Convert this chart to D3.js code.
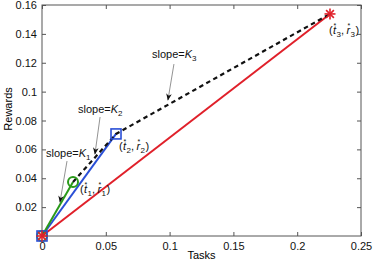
<!DOCTYPE html>
<html>
<head>
<meta charset="utf-8">
<script src="https://cdn.jsdelivr.net/npm/d3@7"></script>
<style>
  body { margin: 0; background: #fff; }
  text { font-family: "Liberation Sans", Arial, sans-serif; }
</style>
</head>
<body>
<div class="canvas"></div>
<script>
'use strict';
// points (t*, r*)
var pointT = [0.0243, 0.058, 0.2257];
var pointR = [0.0374, 0.0707, 0.1538];
var xTicks = [0, 0.05, 0.1, 0.15, 0.2, 0.25];
var yTicks = [0.02, 0.04, 0.06, 0.08, 0.1, 0.12, 0.14, 0.16];

// slope annotations: label anchor, arrow start, arrow end (data units)
var slopeNames = ['1', '2', '3'];
var slopeText = [[0.0031, 0.0547], [0.0282, 0.0852], [0.0862, 0.1230]];
var arrowFrom = [[0.0196, 0.0519], [0.0455, 0.0824], [0.1034, 0.1191]];
var arrowTo = [[0.0141, 0.0235], [0.0415, 0.0568], [0.0987, 0.0942]];
var pointLabelAt = [[0.0298, 0.0298], [0.0603, 0.0596], [0.2249, 0.1399]];

var W = 374, H = 261;
var m = {l: 42, t: 5, r: 13, b: 25};

var xScale = d3.scaleLinear().domain([0, 0.25]).range([m.l, W - m.r]);
var yScale = d3.scaleLinear().domain([0, 0.16]).range([H - m.b, m.t]);

var svg = d3.select('.canvas').append('svg')
    .attr('width', W).attr('height', H);

svg.append('defs').append('marker')
    .attr('id', 'head')
    .attr('viewBox', '0 0 10 10')
    .attr('refX', 9).attr('refY', 5)
    .attr('markerWidth', 7).attr('markerHeight', 7)
    .attr('markerUnits', 'userSpaceOnUse')
    .attr('orient', 'auto')
    .append('path').attr('d', 'M0,1 L10,5 L0,9 L3,5 Z').attr('fill', '#111');

function axisStyle(g) {
    g.select('.domain').remove();
    g.selectAll('line').attr('stroke', '#555');
    g.selectAll('text').attr('font-size', 11).attr('fill', '#111');
}
var fmt = function(d) { return String(+d.toFixed(3)); };

svg.append('g').attr('transform', 'translate(0,' + (H - m.b) + ')')
    .call(d3.axisBottom(xScale).tickValues(xTicks).tickSize(-4).tickPadding(6).tickFormat(fmt))
    .call(axisStyle);
svg.append('g').attr('transform', 'translate(0,' + m.t + ')')
    .call(d3.axisTop(xScale).tickValues(xTicks).tickSize(-4).tickFormat(''))
    .call(axisStyle);
svg.append('g').attr('transform', 'translate(' + m.l + ',0)')
    .call(d3.axisLeft(yScale).tickValues(yTicks).tickSize(-4).tickPadding(5).tickFormat(fmt))
    .call(axisStyle);
svg.append('g').attr('transform', 'translate(' + (W - m.r) + ',0)')
    .call(d3.axisRight(yScale).tickValues(yTicks).tickSize(-4).tickFormat(''))
    .call(axisStyle);

svg.append('rect')
    .attr('x', m.l).attr('y', m.t)
    .attr('width', W - m.l - m.r).attr('height', H - m.t - m.b)
    .attr('fill', 'none').attr('stroke', '#555').attr('stroke-width', 1);

svg.append('text').attr('x', xScale(0.125)).attr('y', H - 2)
    .attr('text-anchor', 'middle').attr('font-size', 11).text('Tasks');
svg.append('text')
    .attr('transform', 'translate(12,' + yScale(0.088) + ') rotate(-90)')
    .attr('text-anchor', 'middle').attr('font-size', 11).text('Rewards');

var line = d3.line().x(d => xScale(d[0])).y(d => yScale(d[1]));
var colors = ['#2a9a1a', '#2a4fd6', '#e0202a'];

// solid lines from origin
[2, 1, 0].forEach(function(i) {
    svg.append('path')
        .attr('d', line([[0, 0], [pointT[i], pointR[i]]]))
        .attr('fill', 'none').attr('stroke', colors[i]).attr('stroke-width', 2);
});

// dashed envelope
svg.append('path')
    .attr('d', line(pointT.map((t, i) => [t, pointR[i]])))
    .attr('fill', 'none').attr('stroke', '#111').attr('stroke-width', 2.2)
    .attr('stroke-dasharray', '4.5,3.5');

function star(g, x, y, color) {
    var r = 5.5;
    for (var k = 0; k < 4; k++) {
        var a = k * Math.PI / 4;
        g.append('line')
            .attr('x1', x - r * Math.cos(a)).attr('y1', y - r * Math.sin(a))
            .attr('x2', x + r * Math.cos(a)).attr('y2', y + r * Math.sin(a))
            .attr('stroke', color).attr('stroke-width', 1.6);
    }
}
function markers(t, r, which) {
    var x = xScale(t), y = yScale(r);
    if (which === 0 || which < 0) {
        svg.append('circle').attr('cx', x).attr('cy', y).attr('r', 5)
            .attr('fill', 'none').attr('stroke', colors[0]).attr('stroke-width', 2);
    }
    if (which === 1 || which < 0) {
        svg.append('rect').attr('x', x - 5).attr('y', y - 5).attr('width', 10).attr('height', 10)
            .attr('fill', 'none').attr('stroke', colors[1]).attr('stroke-width', 1.6);
    }
    if (which === 2 || which < 0) star(svg, x, y, colors[2]);
}
markers(0, 0, -1);
pointT.forEach((t, i) => markers(t, pointR[i], i));

// slope annotations
slopeNames.forEach(function(n, i) {
    var tx = svg.append('text')
        .attr('x', xScale(slopeText[i][0])).attr('y', yScale(slopeText[i][1]))
        .attr('font-size', 11).attr('fill', '#111');
    tx.append('tspan').text('slope=');
    tx.append('tspan').attr('font-style', 'italic').text('K');
    tx.append('tspan').attr('font-size', 8).attr('dy', 3).text(n);
    svg.append('line')
        .attr('x1', xScale(arrowFrom[i][0])).attr('y1', yScale(arrowFrom[i][1]))
        .attr('x2', xScale(arrowTo[i][0])).attr('y2', yScale(arrowTo[i][1]))
        .attr('stroke', '#777').attr('stroke-width', 0.8)
        .attr('marker-end', 'url(#head)');
});

// point labels (t*_i, r*_i): star placed above the letter, index after it
slopeNames.forEach(function(n, i) {
    var g = svg.append('g')
        .attr('transform', 'translate(' + xScale(pointLabelAt[i][0]) + ',' + yScale(pointLabelAt[i][1]) + ')')
        .attr('fill', '#111');
    var parts = [
        {s: '(', x: 0, y: 0, f: 11},
        {s: 't', x: 4, y: 0, f: 11, it: true},
        {s: '*', x: 4.6, y: -6, f: 7},
        {s: n, x: 7.5, y: 3, f: 8},
        {s: ',', x: 12, y: 0, f: 11},
        {s: 'r', x: 17.5, y: 0, f: 11, it: true},
        {s: '*', x: 18.6, y: -6, f: 7},
        {s: n, x: 21.5, y: 3, f: 8},
        {s: ')', x: 26.5, y: 0, f: 11}
    ];
    parts.forEach(function(p) {
        g.append('text').attr('x', p.x).attr('y', p.y)
            .attr('font-size', p.f)
            .attr('font-style', p.it ? 'italic' : null)
            .text(p.s);
    });
});
</script>
</body>
</html>
